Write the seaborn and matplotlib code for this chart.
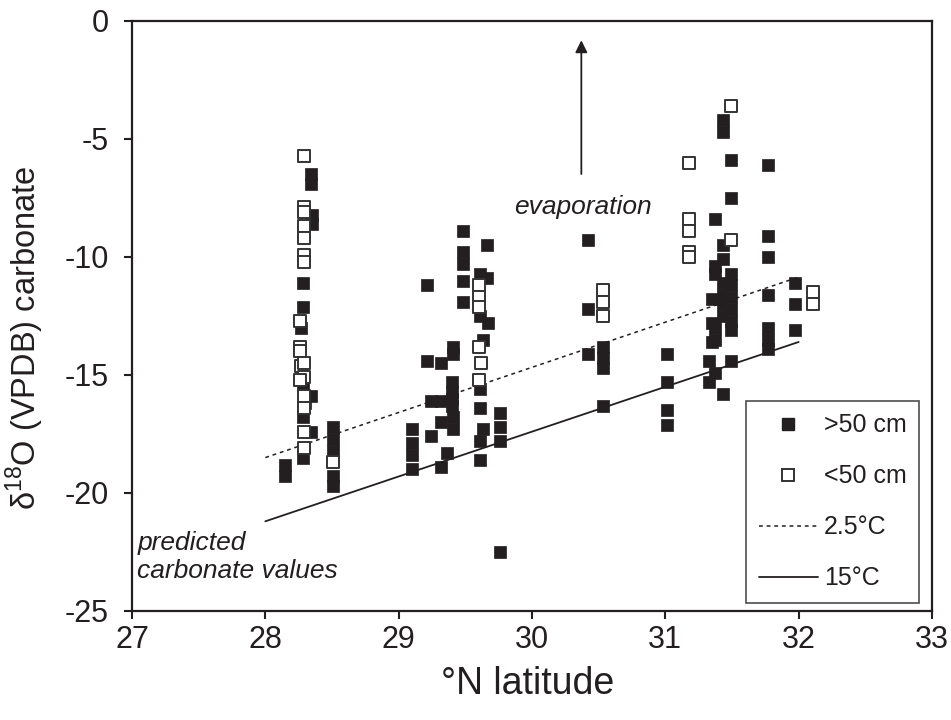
import matplotlib
matplotlib.use("Agg")
import matplotlib.pyplot as plt
import seaborn as sns
import pandas as pd
from matplotlib.lines import Line2D

sns.set_theme(style="ticks")
plt.rcParams['font.family'] = ['Liberation Sans', 'DejaVu Sans']
plt.rcParams['mathtext.fontset'] = 'custom'
plt.rcParams['mathtext.rm'] = 'Liberation Sans'

INK = '#231f20'

# >50 cm samples (filled squares)
deep_lat = [28.34, 28.34, 28.35, 28.35, 28.28, 28.28, 28.27, 28.34, 28.28, 28.34, 28.28, 28.15, 28.15,
            28.51, 28.51, 28.51, 28.51, 28.51, 28.28, 28.30,
            29.48, 29.48, 29.48, 29.48, 29.48, 29.66, 29.21, 29.61, 29.66, 29.61, 29.67, 29.63,
            29.41, 29.41, 29.21, 29.32, 29.40, 29.40, 29.40, 29.40, 29.24, 29.32, 29.41, 29.32, 29.41,
            29.61, 29.61, 29.63, 29.61, 29.61, 29.76, 29.76, 29.76, 29.76, 29.10, 29.10, 29.10, 29.10,
            29.24, 29.36, 29.32,
            30.42, 30.42, 30.42, 30.53, 30.53, 30.53, 30.53,
            31.43, 31.43, 31.49, 31.77, 31.49, 31.37, 31.77, 31.77, 31.43, 31.43, 31.37, 31.77,
            31.97, 31.97, 31.97, 31.77, 31.77, 31.77, 31.37, 31.37, 31.33, 31.33, 31.49, 31.43,
            31.01, 31.01, 31.01, 31.01,
            31.49, 31.49, 31.49, 31.49, 31.49, 31.49, 31.43, 31.43, 31.43, 31.43, 31.35, 31.35,
            31.35, 31.37, 31.37]
deep_d18o = [-6.5, -6.9, -8.2, -8.6, -11.1, -12.1, -13.0, -15.9, -16.8, -17.4, -18.5, -18.8, -19.3,
             -17.2, -17.7, -18.2, -19.3, -19.7, -15.5, -16.2,
             -8.9, -9.8, -10.3, -11.0, -11.9, -9.5, -11.2, -10.7, -10.9, -12.5, -12.8, -13.5,
             -13.8, -14.1, -14.4, -14.5, -15.3, -15.7, -16.0, -16.3, -16.1, -16.1, -16.8, -17.0, -17.3,
             -15.6, -16.4, -17.3, -17.8, -18.6, -16.6, -17.2, -17.8, -22.5, -17.3, -17.9, -18.4, -19.0,
             -17.6, -18.3, -18.9,
             -9.3, -12.2, -14.1, -13.8, -14.3, -14.7, -16.3,
             -4.2, -4.7, -5.9, -6.1, -7.5, -8.4, -9.1, -10.0, -9.5, -10.1, -10.4, -11.6,
             -11.1, -12.0, -13.1, -13.0, -13.5, -13.9, -13.0, -13.5, -14.4, -15.3, -14.4, -15.8,
             -14.1, -15.3, -16.5, -17.1,
             -10.7, -11.2, -11.7, -12.2, -12.7, -13.1, -11.1, -11.6, -12.0, -12.5, -11.8, -12.8,
             -13.6, -10.7, -14.9]

# <50 cm samples (open squares)
shallow_lat = [28.29, 28.29, 28.29, 28.29, 28.29, 28.29, 28.29, 28.26, 28.26, 28.26, 28.27, 28.29,
               28.29, 28.26, 28.29, 28.29, 28.29, 28.29, 28.51,
               29.60, 29.60, 29.60, 29.60, 29.62, 29.60,
               30.53, 30.53, 30.53,
               31.49, 31.18, 31.18, 31.18, 31.18, 31.18, 31.49, 32.11, 32.11]
shallow_d18o = [-5.7, -7.9, -8.1, -8.7, -9.2, -9.9, -10.2, -12.7, -13.8, -14.0, -14.6, -14.5,
                -15.1, -15.2, -15.9, -16.4, -17.4, -18.1, -18.7,
                -11.2, -11.7, -12.1, -13.8, -14.5, -15.2,
                -11.4, -11.9, -12.5,
                -3.6, -6.0, -8.4, -8.9, -9.8, -10.0, -9.3, -11.5, -12.0]

# predicted carbonate lines
line_lat = [28.0, 32.0]
pred_25C = [-18.5, -10.85]
pred_15C = [-21.2, -13.6]

x_ticks = [27, 28, 29, 30, 31, 32, 33]
y_ticks = [0, -5, -10, -15, -20, -25]

deep = pd.DataFrame({'lat': deep_lat, 'd18o': deep_d18o})
shallow = pd.DataFrame({'lat': shallow_lat, 'd18o': shallow_d18o})
lines = pd.DataFrame({'lat': line_lat * 2, 'd18o': pred_25C + pred_15C,
                      'T': ['2.5°C'] * 2 + ['15°C'] * 2})

fig = plt.figure(figsize=(9.51, 7.2), dpi=100)
ax = fig.add_axes([132 / 951, 1 - 611 / 720, 800 / 951, 590 / 720])

sns.lineplot(data=lines[lines['T'] == '2.5°C'], x='lat', y='d18o', ax=ax, color=INK,
             linewidth=1.1, linestyle=(0, (2.5, 2.5)), legend=False)
sns.lineplot(data=lines[lines['T'] == '15°C'], x='lat', y='d18o', ax=ax, color=INK,
             linewidth=1.3, legend=False)

sns.scatterplot(data=deep, x='lat', y='d18o', ax=ax, marker='s', s=85, color=INK,
                edgecolor=INK, linewidth=0.5, legend=False, zorder=3)
sns.scatterplot(data=shallow, x='lat', y='d18o', ax=ax, marker='s', s=85, color='white',
                edgecolor='#333333', linewidth=1.4, legend=False, zorder=4)

ax.set_xlim(27, 33)
ax.set_ylim(-25, 0)
ax.set_xticks(x_ticks)
ax.set_yticks(y_ticks)
ax.set_xticklabels([str(v) for v in x_ticks])
ax.set_yticklabels([str(v) for v in y_ticks])
ax.tick_params(axis='both', direction='out', length=5.8, width=1.5, colors=INK,
               labelsize=22, labelcolor=INK)
ax.tick_params(axis='y', pad=11)
ax.tick_params(axis='x', pad=4)
for sp in ax.spines.values():
    sp.set_visible(True)
    sp.set_color(INK)
    sp.set_linewidth(1.6)

ax.set_xlabel('°N latitude', fontsize=27, color=INK)
ax.set_ylabel('δ$^{\\mathregular{18}}$O (VPDB) carbonate', fontsize=23.5, color=INK)
ax.xaxis.set_label_coords(0.494, -0.094)
ax.yaxis.set_label_coords(-0.1075, 0.464)

ax.annotate('', xy=(30.37, -0.7), xytext=(30.37, -6.6),
            arrowprops=dict(arrowstyle='-|>', lw=1.3, color=INK, mutation_scale=18))
ax.text(30.38, -7.9, 'evaporation', fontsize=19, style='italic', color=INK,
        ha='center', va='center')
ax.text(27.04, -22.1, 'predicted', fontsize=19, style='italic', color=INK,
        ha='left', va='center')
ax.text(27.04, -23.3, 'carbonate values', fontsize=19, style='italic', color=INK,
        ha='left', va='center')

handles = [
    Line2D([], [], marker='s', linestyle='none', markersize=9, markerfacecolor=INK,
           markeredgecolor=INK),
    Line2D([], [], marker='s', linestyle='none', markersize=9, markerfacecolor='white',
           markeredgecolor='#333333', markeredgewidth=1.4),
    Line2D([], [], color=INK, linewidth=1.1, linestyle=(0, (2.5, 2.5))),
    Line2D([], [], color=INK, linewidth=1.3),
]
leg = ax.legend(handles, ['>50 cm', '<50 cm', '2.5°C', '15°C'], loc='lower right',
                bbox_to_anchor=(0.984, 0.0136), fontsize=18, frameon=True, fancybox=False,
                handlelength=2.35, handletextpad=0.25, labelspacing=1.08, borderpad=0.5,
                borderaxespad=0.0)
leg.get_frame().set_edgecolor(INK)
leg.get_frame().set_linewidth(1.2)
for t in leg.get_texts():
    t.set_color(INK)

fig.savefig('out.png', dpi=100)
